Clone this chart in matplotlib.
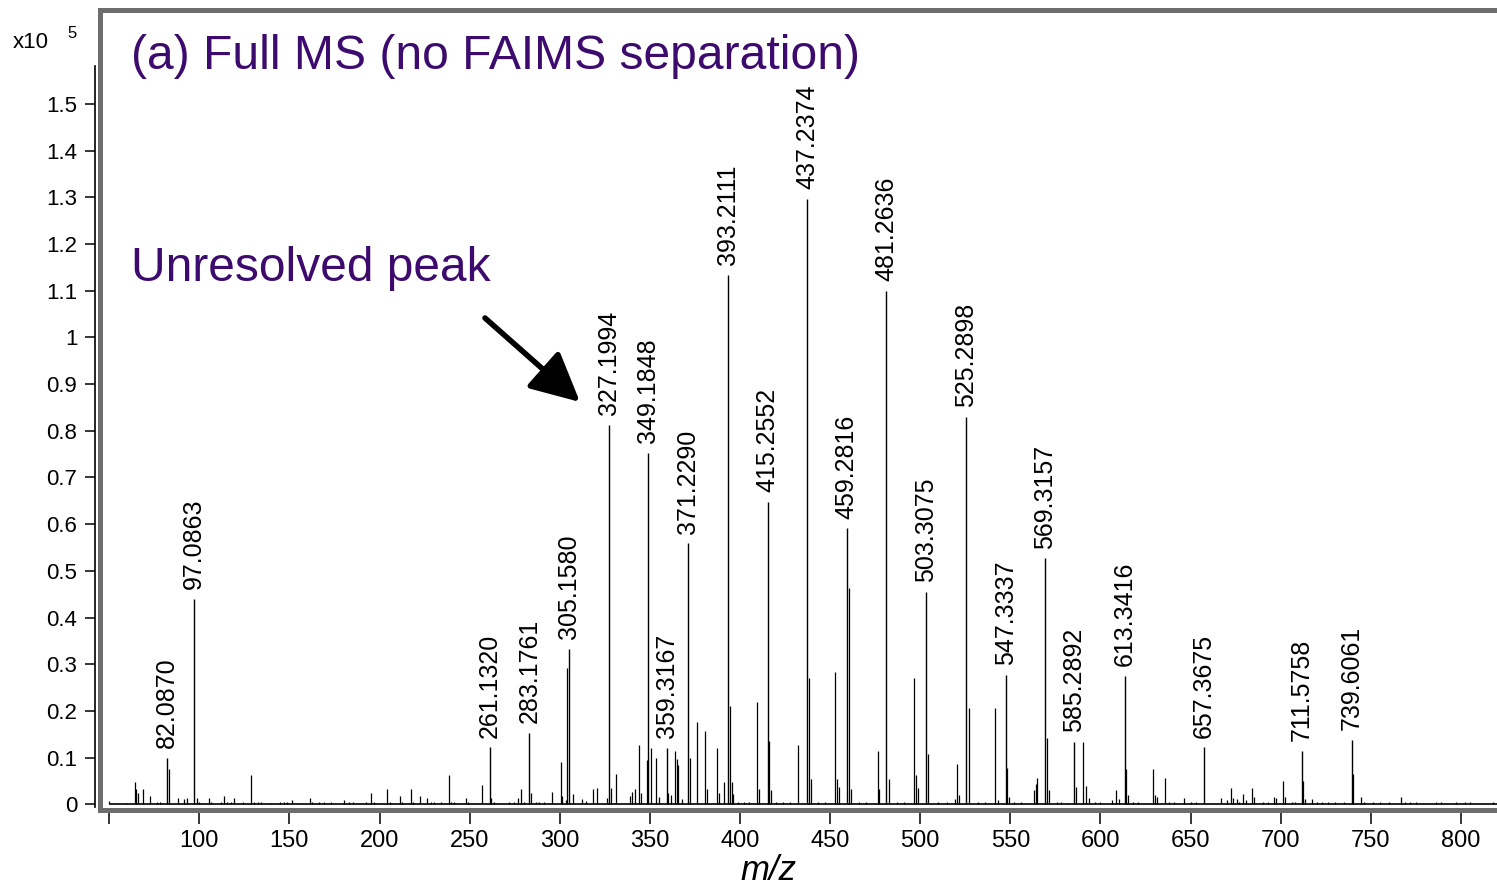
import numpy as np
import matplotlib
matplotlib.use('Agg')
from matplotlib import pyplot as plt

plt.rcParams['font.family'] = ['Liberation Sans', 'DejaVu Sans']

# labelled peaks (intensity in units of 1e5)
label_mz = [82.0870, 97.0863, 261.1320, 283.1761, 305.1580, 327.1994, 349.1848,
            359.3167, 371.2290, 393.2111, 415.2552, 437.2374, 459.2816, 481.2636,
            503.3075, 525.2898, 547.3337, 569.3157, 585.2892, 613.3416, 657.3675,
            711.5758, 739.6061]
label_int = [0.100, 0.440, 0.122, 0.153, 0.333, 0.812, 0.752,
             0.121, 0.559, 1.134, 0.648, 1.296, 0.591, 1.100,
             0.455, 0.830, 0.277, 0.527, 0.134, 0.275, 0.122,
             0.114, 0.138]
label_txt = ['82.0870', '97.0863', '261.1320', '283.1761', '305.1580', '327.1994',
             '349.1848', '359.3167', '371.2290', '393.2111', '415.2552', '437.2374',
             '459.2816', '481.2636', '503.3075', '525.2898', '547.3337', '569.3157',
             '585.2892', '613.3416', '657.3675', '711.5758', '739.6061']

# unlabelled sticks
other_mz = [50.0, 59.2, 64.2, 65.1, 66.1, 68.5, 72.7, 76.4, 78.3, 83.4, 87.9, 91.6,
            93.0, 98.6, 99.9, 105.5, 106.7, 111.9, 113.6, 115.1, 117.5, 119.0, 124.5,
            128.8, 130.4, 132.3, 134.1, 139.3, 144.9, 147.1, 148.9, 151.7, 161.5, 162.8,
            166.5, 169.3, 172.9, 180.4, 183.1, 185.5, 192.4, 195.5, 197.0, 204.4, 205.9,
            211.2, 212.7, 217.3, 218.3, 222.5, 226.6, 228.4, 230.3, 234.0, 238.6, 239.5,
            241.4, 247.8, 249.2, 256.7, 262.1, 263.6, 271.9, 274.7, 276.9, 278.7, 280.2,
            284.2, 286.7, 288.6, 291.3, 295.9, 300.5, 301.3, 303.3, 304.2, 307.6, 312.6,
            314.5, 318.2, 320.9, 326.4, 328.2, 331.1, 339.0, 340.3, 341.6, 343.7, 345.3,
            348.3, 350.5, 353.6, 355.0, 360.3, 361.5, 364.0, 365.0, 365.7, 368.0, 372.3,
            376.4, 380.8, 381.8, 387.5, 388.6, 391.2, 394.5, 395.5, 396.3, 399.0, 402.0,
            405.0, 409.7, 410.7, 416.2, 417.2, 420.0, 424.0, 428.0, 432.3, 438.4, 439.2,
            443.0, 447.0, 452.8, 454.0, 455.0, 460.28, 461.5, 466.0, 470.0, 476.3, 477.3,
            482.7, 487.0, 491.0, 496.6, 497.9, 498.9, 504.5, 510.0, 515.0, 519.5, 520.3,
            521.3, 527.1, 532.0, 536.0, 541.4, 543.0, 548.3, 549.5, 552.0, 556.0, 563.2,
            564.1, 565.0, 570.3, 571.5, 576.0, 578.0, 582.0, 586.6, 590.5, 592.0, 593.7,
            597.0, 600.0, 606.5, 608.7, 610.5, 614.3, 615.5, 618.0, 621.0, 629.2, 630.5,
            631.2, 635.9, 638.0, 641.0, 646.3, 650.0, 653.0, 666.7, 670.3, 672.3, 673.8,
            675.5, 677.0, 679.3, 680.5, 683.8, 685.3, 690.0, 693.0, 696.2, 697.5, 701.0,
            702.3, 706.5, 708.0, 712.2, 713.3, 717.5, 720.0, 723.0, 726.0, 730.0, 735.0,
            740.3, 744.3, 746.0, 751.0, 755.0, 760.0, 767.0, 769.0, 772.0, 775.0, 786.0,
            789.0, 797.0, 802.0, 805.0, 818.0]
other_int = [0.008, 0.003, 0.047, 0.032, 0.025, 0.032, 0.018, 0.005, 0.004, 0.076, 0.013, 0.011,
             0.013, 0.013, 0.005, 0.013, 0.005, 0.004, 0.018, 0.005, 0.004, 0.013, 0.004,
             0.063, 0.004, 0.004, 0.004, 0.003, 0.004, 0.004, 0.005, 0.009, 0.013, 0.004,
             0.004, 0.004, 0.004, 0.009, 0.005, 0.004, 0.004, 0.024, 0.004, 0.032, 0.005,
             0.018, 0.005, 0.032, 0.005, 0.018, 0.013, 0.005, 0.005, 0.005, 0.063, 0.005,
             0.004, 0.013, 0.005, 0.041, 0.013, 0.005, 0.006, 0.004, 0.013, 0.032, 0.005,
             0.024, 0.005, 0.004, 0.006, 0.027, 0.091, 0.018, 0.009, 0.291, 0.022, 0.011,
             0.007, 0.032, 0.035, 0.013, 0.035, 0.066, 0.018, 0.027, 0.032, 0.128, 0.025,
             0.095, 0.120, 0.100, 0.016, 0.025, 0.020, 0.114, 0.098, 0.085, 0.011, 0.100,
             0.176, 0.158, 0.033, 0.120, 0.025, 0.048, 0.210, 0.047, 0.023, 0.006, 0.005,
             0.005, 0.220, 0.033, 0.136, 0.030, 0.005, 0.005, 0.004, 0.128, 0.270, 0.055,
             0.005, 0.004, 0.284, 0.055, 0.037, 0.463, 0.032, 0.004, 0.005, 0.114, 0.032,
             0.055, 0.005, 0.004, 0.270, 0.062, 0.035, 0.108, 0.004, 0.004, 0.012, 0.086,
             0.020, 0.206, 0.004, 0.004, 0.206, 0.009, 0.077, 0.015, 0.004, 0.004, 0.031,
             0.043, 0.056, 0.143, 0.031, 0.004, 0.004, 0.003, 0.038, 0.134, 0.039, 0.013,
             0.004, 0.004, 0.009, 0.031, 0.011, 0.076, 0.020, 0.004, 0.004, 0.076, 0.020,
             0.016, 0.056, 0.004, 0.004, 0.013, 0.004, 0.004, 0.013, 0.009, 0.036, 0.013,
             0.011, 0.004, 0.022, 0.009, 0.036, 0.016, 0.004, 0.004, 0.016, 0.013, 0.050,
             0.016, 0.005, 0.005, 0.050, 0.011, 0.011, 0.005, 0.006, 0.005, 0.004, 0.004,
             0.064, 0.016, 0.004, 0.004, 0.004, 0.004, 0.016, 0.004, 0.004, 0.004, 0.005,
             0.005, 0.004, 0.004, 0.004, 0.004]

yticks = [0, 0.1, 0.2, 0.3, 0.4, 0.5, 0.6, 0.7, 0.8, 0.9, 1.0, 1.1, 1.2, 1.3, 1.4, 1.5]
ytick_labels = ['0', '0.1', '0.2', '0.3', '0.4', '0.5', '0.6', '0.7', '0.8', '0.9',
                '1', '1.1', '1.2', '1.3', '1.4', '1.5']
xticks = list(range(50, 801, 50))
xtick_labels = [''] + [str(v) for v in xticks[1:]]

purple = '#3d0a6e'
W, H = 1497, 892

fig = plt.figure(figsize=(W/100, H/100), dpi=100)
rect = [100/W, (H-809.5)/H, (W-100)/W, 800/H]
ax = fig.add_axes(rect)
ax.set_xlim(44.9, 820.0)
ax.set_ylim(-0.0111, 1.7023)
for s in ['top', 'left', 'bottom']:
    ax.spines[s].set_color('#6d6d6d')
    ax.spines[s].set_linewidth(3.6)
ax.spines['right'].set_visible(False)
ax.set_yticks([])
ax.set_xticks(xticks)
ax.set_xticklabels(xtick_labels)
ax.tick_params(axis='x', direction='out', length=10, width=1.1, color='black',
               pad=5, labelsize=17)

# separate y axis line sitting just left of the grey frame
ay = fig.add_axes(rect)
ay.patch.set_visible(False)
ay.set_ylim(-0.0111, 1.7023)
for s in ['top', 'right', 'bottom']:
    ay.spines[s].set_visible(False)
ay.spines['left'].set_position(('outward', 3.3))
ay.spines['left'].set_bounds(-0.006, 1.581)
ay.spines['left'].set_linewidth(1.2)
ay.set_xticks([])
ay.set_yticks(yticks)
ay.set_yticklabels(ytick_labels)
ay.tick_params(axis='y', direction='out', length=7, width=1.1, pad=6, labelsize=16)

ax.plot([50.5, 820], [0, 0], color='black', lw=1.2)
ax.vlines(other_mz, 0, other_int, color='black', lw=0.9)
ax.vlines(label_mz, 0, label_int, color='black', lw=1.0)

for m, v, t in zip(label_mz, label_int, label_txt):
    ax.annotate(t, xy=(m, v), xytext=(0, 7), textcoords='offset points',
                rotation=90, ha='center', va='bottom', fontsize=18)

fig.text(13/W, 1-48/H, 'x10', fontsize=16, va='baseline')
fig.text(67/W, 1-38/H, '5', fontsize=12, va='baseline')

fig.text(131/W, 1-69/H, '(a) Full MS (no FAIMS separation)', fontsize=34.6,
         color=purple, va='baseline')
fig.text(131/W, 1-281/H, 'Unresolved peak', fontsize=34.5, color=purple, va='baseline')

ax.annotate('', xy=(580/W, 1-402/H), xycoords='figure fraction',
            xytext=(485/W, 1-318/H), textcoords='figure fraction',
            arrowprops=dict(arrowstyle='-|>,head_length=0.6,head_width=0.3',
                            lw=4, color='black', mutation_scale=50,
                            shrinkA=0, shrinkB=0))

fig.text(768/W, 1-880/H, 'm/z', style='italic', fontsize=25, ha='center', va='baseline')

plt.savefig('out.png', dpi=100)
